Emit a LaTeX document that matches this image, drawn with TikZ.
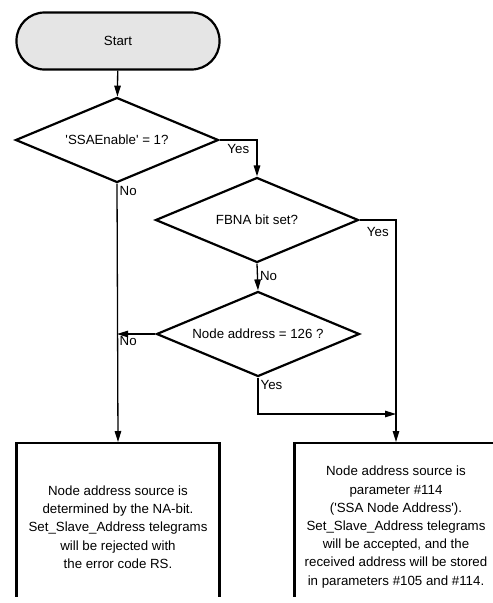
\documentclass[tikz,border=0pt]{standalone}
\usepackage{fontspec}
\setmainfont{Liberation Sans}
\usepackage{tikz}
\usetikzlibrary{shapes.geometric,arrows.meta}

\begin{document}
\begin{tikzpicture}[x=1pt,y=-1pt,
                      every node/.style={font=\fontsize{13.3}{18.2}\selectfont},
                      term/.style={draw,line width=2.2pt,fill=gray!20,rounded corners=28pt,minimum width=203pt,minimum height=57pt},
                      decision/.style={diamond,draw,line width=2.2pt,aspect=2.4,inner sep=0pt,minimum width=203pt,minimum height=85pt},
                      textbox/.style={draw,line width=2.2pt,align=center,minimum width=203pt,minimum height=168pt,anchor=north},
                      arr/.style={line width=1.3pt,-{Triangle[length=11pt,width=6.5pt]}},
                      lbl/.style={inner sep=2pt}]
                      \useasboundingbox (0,0) rectangle (493,603);
                      \clip (0,0) rectangle (493,596);
                      \node[term](start)at(118,41){Start};
                      \node[decision](ssa)at(117,140){\textquotesingle SSAEnable\textquotesingle{} = 1?};
                      \node[decision](fbna)at(257,220){FBNA bit set?};
                      \node[decision](addr)at(258,334){Node address = 126 ?};
                      \node[textbox](rejected)at(118,442){Node address source is\\determined by the NA-bit.\\Set\_Slave\_Address telegrams\\will be rejected with\\the error code RS.};
                      \node[textbox](accepted)at(396,442){Node address source is\\parameter \#114\\(\textquotesingle SSA Node Address\textquotesingle).\\Set\_Slave\_Address telegrams\\will be accepted, and the\\received address will be stored\\in parameters \#105 and \#114.};
                      \coordinate (nojoin) at (ssa.south |- addr.west);
                      \coordinate (yesjoin) at (396,414);
                      \draw[arr] (start) -- (ssa);
                      \draw[arr] (ssa.east) -| node[lbl,below=2pt,pos=0.25]{Yes} (fbna.north);
                      \draw[arr] (ssa.south) -- node[lbl,anchor=north west,pos=0]{No} (rejected.north);
                      \draw[arr] (fbna.east) -| node[lbl,below=5pt,pos=0.25]{Yes} (accepted.north);
                      \draw[arr] (fbna.south) -- node[lbl,right,pos=0.45]{No} (addr.north);
                      \draw[arr] (addr.west) -- node[lbl,anchor=north west,pos=1]{No} (nojoin);
                      \draw[arr] (addr.south) |- node[lbl,anchor=north west,pos=0]{Yes} (yesjoin);
                  \end{tikzpicture}
\end{document}
